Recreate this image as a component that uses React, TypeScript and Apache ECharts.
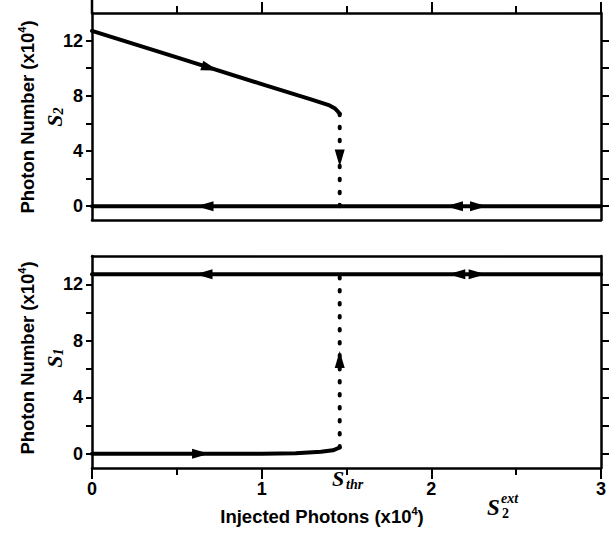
import React, { useEffect, useRef } from 'react';
import * as echarts from 'echarts';

// ---- data ----
const sThr = 1.46;
const s2UpperX = [0, 0.5, 1.0, 1.3, 1.4, 1.43, 1.45, 1.46];
const s2UpperY = [12.7, 10.78, 8.85, 7.7, 7.3, 7.1, 6.85, 6.7];
const s2LowerX = [0, 3];
const s2LowerY = [0, 0];
const s2DropY = [6.7, 0];

const s1UpperX = [0, 3];
const s1UpperY = [12.7, 12.7];
const s1LowerX = [0, 1.0, 1.2, 1.35, 1.42, 1.46];
const s1LowerY = [0, 0, 0.05, 0.15, 0.25, 0.45];
const s1RiseY = [0.45, 12.7];

const xTickLabels = [0, 1, 2, 3];
const yTickLabels = [0, 4, 8, 12];
const yTicks = [0, 2, 4, 6, 8, 10, 12];

// arrows: x, y, direction
const topArrowX = [0.695, 0.666, 1.46, 2.136, 2.278];
const topArrowY = [10.02, 0, 3.5, 0, 0];
const topArrowDir = ['slope', 'left', 'down', 'left', 'right'];
const botArrowX = [0.66, 2.15, 2.27, 0.64, 1.46];
const botArrowY = [12.7, 12.7, 12.7, 0, 6.67];
const botArrowDir = ['left', 'left', 'right', 'right', 'up'];

const rot: Record<string, number> = { up: 0, down: 180, left: 90, right: -90, slope: -107 };

const zip = (xs: number[], ys: number[]) => xs.map((x, i) => [x, ys[i]]);

const SANS = 'Liberation Sans';
const SERIF = 'Liberation Serif';

export default function App() {
  const ref = useRef<HTMLDivElement>(null);
  useEffect(() => {
    if (!ref.current) return;
    const chart = echarts.init(ref.current, undefined, { renderer: 'svg' });
    const axisLine = { show: true, onZero: false, lineStyle: { color: '#000', width: 2.5 } };
    const lbl = { fontFamily: SANS, fontWeight: 'bold' as const, fontSize: 18, color: '#000' };
    const xAxisBase = (grid: number, position: string, ticks: boolean, labels: boolean) => ({
      type: 'value', gridIndex: grid, position, min: 0, max: 3, interval: 1,
      axisLine,
      axisTick: { show: ticks, inside: false, length: 11, lineStyle: { color: '#000', width: 2 } },
      minorTick: { show: ticks, splitNumber: 2, length: 7, lineStyle: { color: '#000', width: 2 } },
      axisLabel: labels ? { ...lbl, margin: 12, customValues: xTickLabels } : { show: false },
      splitLine: { show: false }, minorSplitLine: { show: false },
    });
    const yAxisBase = (grid: number, position: string, labels: boolean) => ({
      type: 'value', gridIndex: grid, position, min: -1, max: 14,
      axisLine,
      axisTick: { show: true, inside: false, length: position === 'left' ? 6 : 8, customValues: yTicks, lineStyle: { color: '#000', width: 2 } },
      axisLabel: labels ? { ...lbl, margin: 9, customValues: yTickLabels } : { show: false },
      splitLine: { show: false },
    });
    const line = (x: number, y: number, data: number[][], dotted = false) => ({
      type: 'line', xAxisIndex: x, yAxisIndex: y, data, symbol: 'none', silent: true,
      lineStyle: dotted
        ? { color: '#000', width: 4, type: [1.5, 11.5], cap: 'round' }
        : { color: '#000', width: 4, cap: 'round', join: 'round' },
    });
    const arrows = (x: number, y: number, xs: number[], ys: number[], dirs: string[]) => ({
      type: 'scatter', xAxisIndex: x, yAxisIndex: y, silent: true,
      data: xs.map((v, i) => ({ value: [v, ys[i]], symbolRotate: rot[dirs[i]] })),
      symbol: 'triangle', symbolSize: [10, 17],
      itemStyle: { color: '#000', opacity: 1 },
    });
    const supRich = { sup: { fontSize: 11, fontWeight: 'bold', fontFamily: SANS, verticalAlign: 'top', lineHeight: 22, padding: [0, 0, 6, 0] } };
    const titleStyle = (cx: number, cy: number) => ({
      type: 'text', x: cx, y: cy, rotation: Math.PI / 2,
      style: {
        text: 'Photon Number (x10{sup|4})', align: 'center', verticalAlign: 'middle',
        font: `bold 18.5px "${SANS}"`, fill: '#000', rich: supRich,
      },
    });
    const sLabel = (cx: number, cy: number, sub: string) => ({
      type: 'text', x: cx, y: cy, rotation: Math.PI / 2,
      style: {
        text: `S{sub|${sub}}`, align: 'center', verticalAlign: 'middle',
        font: `italic bold 22px "${SERIF}"`, fill: '#000',
        rich: { sub: { fontSize: 14, fontStyle: 'italic', fontWeight: 'bold', fontFamily: SERIF, verticalAlign: 'bottom', padding: [7, 0, 0, 0] } },
      },
    });
    chart.setOption({
      animation: false,
      grid: [
        { left: 92, top: 13, right: 11, height: 207 },
        { left: 92, top: 256, right: 11, height: 212 },
      ],
      xAxis: [
        xAxisBase(0, 'top', true, false),
        xAxisBase(0, 'bottom', false, false),
        xAxisBase(1, 'bottom', true, true),
        xAxisBase(1, 'top', false, false),
      ],
      yAxis: [
        yAxisBase(0, 'left', true),
        yAxisBase(0, 'right', false),
        yAxisBase(1, 'left', true),
        yAxisBase(1, 'right', false),
      ],
      series: [
        line(0, 0, zip(s2UpperX, s2UpperY)),
        line(0, 0, zip(s2LowerX, s2LowerY)),
        line(0, 0, zip([sThr, sThr], s2DropY), true),
        arrows(0, 0, topArrowX, topArrowY, topArrowDir),
        line(2, 2, zip(s1UpperX, s1UpperY)),
        line(2, 2, zip(s1LowerX, s1LowerY)),
        line(2, 2, zip([sThr, sThr], s1RiseY), true),
        arrows(2, 2, botArrowX, botArrowY, botArrowDir),
      ],
      graphic: [
        { type: 'line', shape: { x1: 92, y1: 0, x2: 92, y2: 13 }, style: { stroke: '#000', lineWidth: 2.5 } },
        titleStyle(27, 117),
        sLabel(54, 117, '2'),
        titleStyle(27, 358),
        sLabel(54, 358, '1'),
        {
          type: 'text', x: 322, y: 516,
          style: { text: 'Injected Photons (x10{sup|4})', align: 'center', verticalAlign: 'middle', font: `bold 18.5px "${SANS}"`, fill: '#000', rich: supRich },
        },
        { type: 'text', x: 487, y: 496, style: { text: 'S', font: `italic bold 23px "${SERIF}"`, fill: '#000' } },
        { type: 'text', x: 501, y: 491, style: { text: 'ext', font: `italic bold 14px "${SERIF}"`, fill: '#000' } },
        { type: 'text', x: 502, y: 506, style: { text: '2', font: `bold 14px "${SERIF}"`, fill: '#000' } },
        { type: 'text', x: 332, y: 467, style: { text: 'S', font: `italic bold 22px "${SERIF}"`, fill: '#000' } },
        { type: 'text', x: 346, y: 477, style: { text: 'thr', font: `italic bold 14px "${SERIF}"`, fill: '#000' } },
      ],
    });
    return () => chart.dispose();
  }, []);
  return <div ref={ref} style={{ position: 'absolute', left: 0, top: 0, width: 612, height: 533, background: '#fff' }} />;
}
